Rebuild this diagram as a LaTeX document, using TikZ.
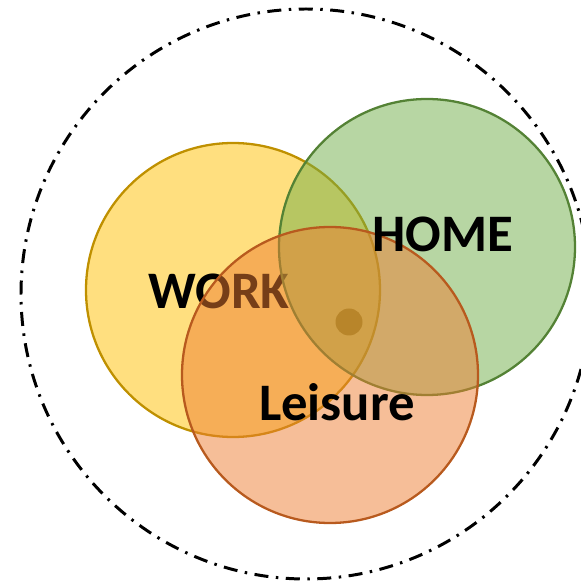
\documentclass[tikz,border=0pt]{standalone}
\usepackage{fontspec}
\setmainfont{Carlito}
\usepackage{tikz}
\definecolor{workfill}{HTML}{FFC000}
\definecolor{workline}{HTML}{BF9000}
\definecolor{homefill}{HTML}{70AD47}
\definecolor{homeline}{HTML}{548235}
\definecolor{leisfill}{HTML}{ED7D31}
\definecolor{leisline}{HTML}{B85A1E}
\definecolor{dotfill}{HTML}{B8852A}

\begin{document}
\begin{tikzpicture}[
	sphere/.style={line width=1.3pt, fill opacity=0.5},
	label/.style={font=\fontsize{30}{36}\selectfont\bfseries, inner sep=0pt}]
	\useasboundingbox (0,0) rectangle (11.6,11.66);
	\draw[line width=1.7pt, dash pattern=on 0.28cm off 0.15cm on 0.05cm off 0.15cm] (6.12,5.78) circle (5.70);
	\draw[sphere, draw=workline, fill=workfill] (4.66,5.86) circle (2.94);
	\node[label] (work) at (4.38,5.84) {WORK};
	\draw[sphere, draw=homeline, fill=homefill] (8.54,6.72) circle (2.96);
	\draw[sphere, draw=leisline, fill=leisfill] (6.60,4.16) circle (2.96);
	\fill[dotfill] (6.98,5.22) circle (0.27);
	\node[label] (home) at (8.86,6.97) {HOME};
	\node[label] (leisure) at (6.74,3.62) {Leisure};
\end{tikzpicture}
\end{document}
